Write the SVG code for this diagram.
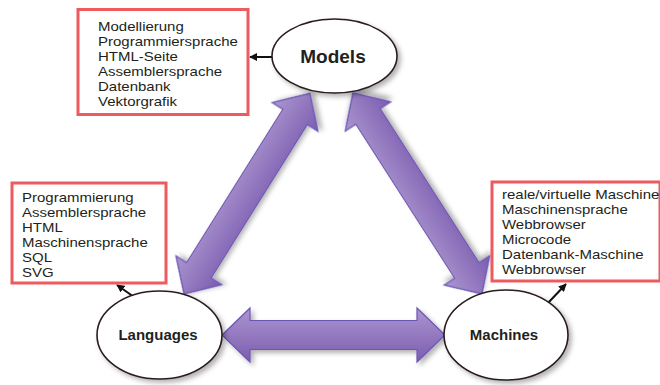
<svg xmlns="http://www.w3.org/2000/svg" width="660" height="385" viewBox="0 0 660 385">
<style>
.box{fill:#fff;stroke:#ee5b5e;stroke-width:3}
.item{font-family:"Liberation Sans",Arial,sans-serif;font-size:13px;fill:#231f20}
.node{fill:#fff;stroke:#2a1d1d;stroke-width:1.6}
.lbl{font-family:"Liberation Sans",Arial,sans-serif;font-weight:bold;fill:#231f20;text-anchor:middle}
.big{fill:url(#pg);stroke:#6a57b4;stroke-width:1.2}
.thin{stroke:#111;stroke-width:2;fill:none;marker-end:url(#ah)}
</style>
<defs>
<linearGradient id="pg" x1="0" y1="0" x2="0" y2="1">
<stop offset="0" stop-color="#ac96cf"/>
<stop offset="1" stop-color="#7b5cb0"/>
</linearGradient>
<filter id="sh" x="-20%" y="-20%" width="150%" height="150%">
<feDropShadow dx="3" dy="3" stdDeviation="2.5" flood-color="#000" flood-opacity="0.3"/>
</filter>
<marker id="ah" viewBox="0 0 10 10" refX="9" refY="5" markerWidth="4" markerHeight="4" orient="auto" markerUnits="strokeWidth">
<path d="M0,0 L10,5 L0,10 Z" fill="#111"/>
</marker>
</defs>

<g id="connectors">
<path class="big" filter="url(#sh)" transform="translate(222,335)" d="M0,0 L28,-27 L28,-14.5 L195,-14.5 L195,-27 L223,0 L195,27 L195,14.5 L28,14.5 L28,27 Z"/>
<path class="big" filter="url(#sh)" transform="translate(184,294) rotate(-57.9)" d="M0,0 L28,-27 L28,-14.5 L209,-14.5 L209,-27 L237,0 L209,27 L209,14.5 L28,14.5 L28,27 Z"/>
<path class="big" filter="url(#sh)" transform="translate(482,294) rotate(-122.7)" d="M0,0 L28,-27 L28,-14.5 L211,-14.5 L211,-27 L239,0 L211,27 L211,14.5 L28,14.5 L28,27 Z"/>
<line class="thin" x1="272" y1="57" x2="250" y2="57"/>
<line class="thin" x1="134" y1="297" x2="117" y2="285"/>
<line class="thin" x1="548" y1="303" x2="566" y2="284"/>
</g>

<g id="models">
<ellipse class="node" filter="url(#sh)" cx="334.5" cy="56" rx="62.5" ry="37"/>
<text class="lbl" x="333" y="63" font-size="19">Models</text>
</g>
<g id="languages">
<ellipse class="node" filter="url(#sh)" cx="159.5" cy="335" rx="62.5" ry="44"/>
<text class="lbl" x="158" y="339.5" font-size="15">Languages</text>
</g>
<g id="machines">
<ellipse class="node" filter="url(#sh)" cx="506" cy="335" rx="62" ry="45"/>
<text class="lbl" x="504" y="340" font-size="15">Machines</text>
</g>

<g id="models-box">
<rect class="box" x="78" y="9.5" width="170" height="105"/>
<g transform="translate(98,0) scale(1.154,1)">
<text class="item" x="0" y="30.7">Modellierung</text>
<text class="item" x="0" y="45.8">Programmiersprache</text>
<text class="item" x="0" y="60.9">HTML-Seite</text>
<text class="item" x="0" y="76">Assemblersprache</text>
<text class="item" x="0" y="91.1">Datenbank</text>
<text class="item" x="0" y="106.2">Vektorgrafik</text>
</g>
</g>
<g id="languages-box">
<rect class="box" x="12" y="183" width="154" height="100"/>
<g transform="translate(22,0) scale(1.154,1)">
<text class="item" x="0" y="202">Programmierung</text>
<text class="item" x="0" y="217">Assemblersprache</text>
<text class="item" x="0" y="232">HTML</text>
<text class="item" x="0" y="247">Maschinensprache</text>
<text class="item" x="0" y="262">SQL</text>
<text class="item" x="0" y="277">SVG</text>
</g>
</g>
<g id="machines-box">
<rect class="box" x="492" y="182" width="168" height="99"/>
<g transform="translate(502,0) scale(1.154,1)">
<text class="item" x="0" y="199">reale/virtuelle Maschine</text>
<text class="item" x="0" y="214">Maschinensprache</text>
<text class="item" x="0" y="229">Webbrowser</text>
<text class="item" x="0" y="244">Microcode</text>
<text class="item" x="0" y="259">Datenbank-Maschine</text>
<text class="item" x="0" y="274">Webbrowser</text>
</g>
</g>
</svg>
